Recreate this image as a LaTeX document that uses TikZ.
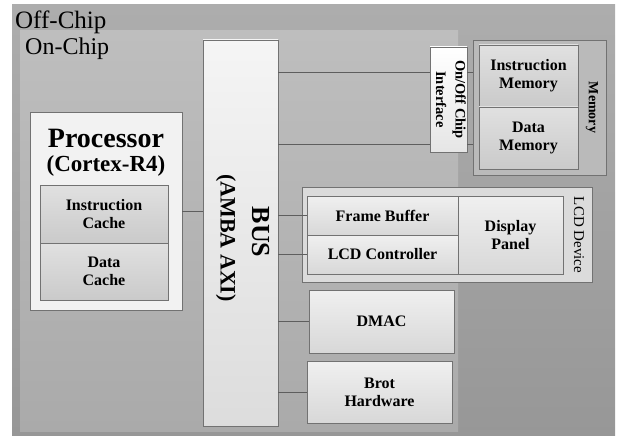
\documentclass[tikz,border=0pt]{standalone}
\usepackage{fontspec}
\setmainfont{Liberation Serif}
\usetikzlibrary{calc}

\definecolor{offtop}{HTML}{ADADAD}
\definecolor{offbot}{HTML}{979797}
\definecolor{ontop}{HTML}{BEBEBE}
\definecolor{onbot}{HTML}{AAAAAA}
\definecolor{edgegray}{HTML}{727272}
\definecolor{linkgray}{HTML}{5E5E5E}
\colorlet{unitfill}{black!6}
\colorlet{cachefill}{black!12}
\colorlet{busfill}{black!4}

\tikzset{
  unitbox/.style={draw=edgegray, line width=0.9pt, inner sep=0pt,
    top color=#1, bottom color=#1!90!black, align=center,
    font=\fontsize{16}{18}\selectfont\bfseries},
  unitbox/.default=unitfill,
  cachebox/.style={unitbox=cachefill},
  holdbox/.style={draw=edgegray, line width=0.9pt, inner sep=0pt},
  link/.style={draw=linkgray, line width=0.9pt},
  sidelabel/.style={rotate=-90, align=center, inner sep=0pt}
}

\begin{document}
\begin{tikzpicture}[x=1pt, y=-1pt]
\useasboundingbox (0,0) rectangle (619,436);

% chip regions
\shade[top color=offtop, bottom color=offbot] (12,5) rectangle (615,436);
\shade[top color=ontop, bottom color=onbot] (20,31) rectangle (458,431);
\node[anchor=base west, inner sep=0pt, font=\fontsize{25}{28}\selectfont] (offlbl) at (15,28.5) {Off-Chip};
\node[anchor=base west, inner sep=0pt, font=\fontsize{24}{27}\selectfont] (onlbl) at (25,54.5) {On-Chip};

% processor
\node[holdbox, fill=black!5, minimum width=152, minimum height=198] (proc) at (106,211) {};
\node[font=\fontsize{28}{30}\selectfont\bfseries] (proctitle) at (106,138) {Processor};
\node[font=\fontsize{23}{26}\selectfont\bfseries] (procsub) at (106,166) {(Cortex-R4)};
\node[cachebox, minimum width=128, minimum height=58] (icache) at (104,214) {Instruction\\Cache};
\node[cachebox, minimum width=128, minimum height=57] (dcache) at (104,271.5) {Data\\Cache};

% bus
\node[unitbox=busfill, minimum width=75, minimum height=386] (bus) at (240.5,233) {};
\node[sidelabel, font=\fontsize{26}{30}\selectfont\bfseries] (buslbl) at (261,232) {BUS};
\node[sidelabel, font=\fontsize{22}{26}\selectfont\bfseries] (bussub) at (226,238) {(AMBA AXI)};

% off-chip memory
\node[unitbox=white, minimum width=37, minimum height=105] (iface) at (448.5,99.5) {};
\node[sidelabel, font=\fontsize{14.5}{19.5}\selectfont\bfseries] (ifacelbl) at (451,99.5) {On/Off Chip\\Interface};
\node[holdbox, fill=black!27, minimum width=133, minimum height=135] (mem) at (539.5,107.5) {};
\node[cachebox, minimum width=99, minimum height=62] (imem) at (528.5,76) {Instruction\\Memory};
\node[cachebox, minimum width=99, minimum height=62] (dmem) at (528.5,138) {Data\\Memory};
\node[sidelabel, font=\fontsize{14}{16}\selectfont\bfseries] (memlbl) at (592,107.5) {Memory};

% lcd device
\node[holdbox, fill=black!14, minimum width=290, minimum height=95] (lcd) at (447,234.5) {};
\node[unitbox, minimum width=151, minimum height=39] (fb) at (382.5,215.5) {Frame Buffer};
\node[unitbox, minimum width=151, minimum height=39] (lcdc) at (382.5,254.5) {LCD Controller};
\node[unitbox, minimum width=105, minimum height=78] (panel) at (510.5,235) {Display\\Panel};
\node[sidelabel, font=\fontsize{15}{18}\selectfont] (lcdlbl) at (579,235) {LCD Device};

% other units
\node[unitbox, minimum width=145, minimum height=63] (dmac) at (381.5,321.5) {DMAC};
\node[unitbox, minimum width=145, minimum height=62] (brot) at (379.5,392) {Brot\\Hardware};

% connections
\coordinate (ifa) at ($(iface.west)+(0,-27.5)$);
\coordinate (ifb) at ($(iface.west)+(0,44.5)$);
\draw[link] (proc.east) -- (proc.east -| bus.west);
\draw[link] (ifa -| bus.east) -- (ifa);
\draw[link] (ifb -| bus.east) -- (ifb);
\draw[link] (ifa -| iface.east) -- (ifa -| mem.west);
\draw[link] (ifb -| iface.east) -- (ifb -| mem.west);
\draw[link] (fb.west -| bus.east) -- (fb.west);
\draw[link] (lcdc.west -| bus.east) -- (lcdc.west);
\draw[link] (dmac.west -| bus.east) -- (dmac.west);
\draw[link] (brot.west -| bus.east) -- (brot.west);
\end{tikzpicture}
\end{document}
